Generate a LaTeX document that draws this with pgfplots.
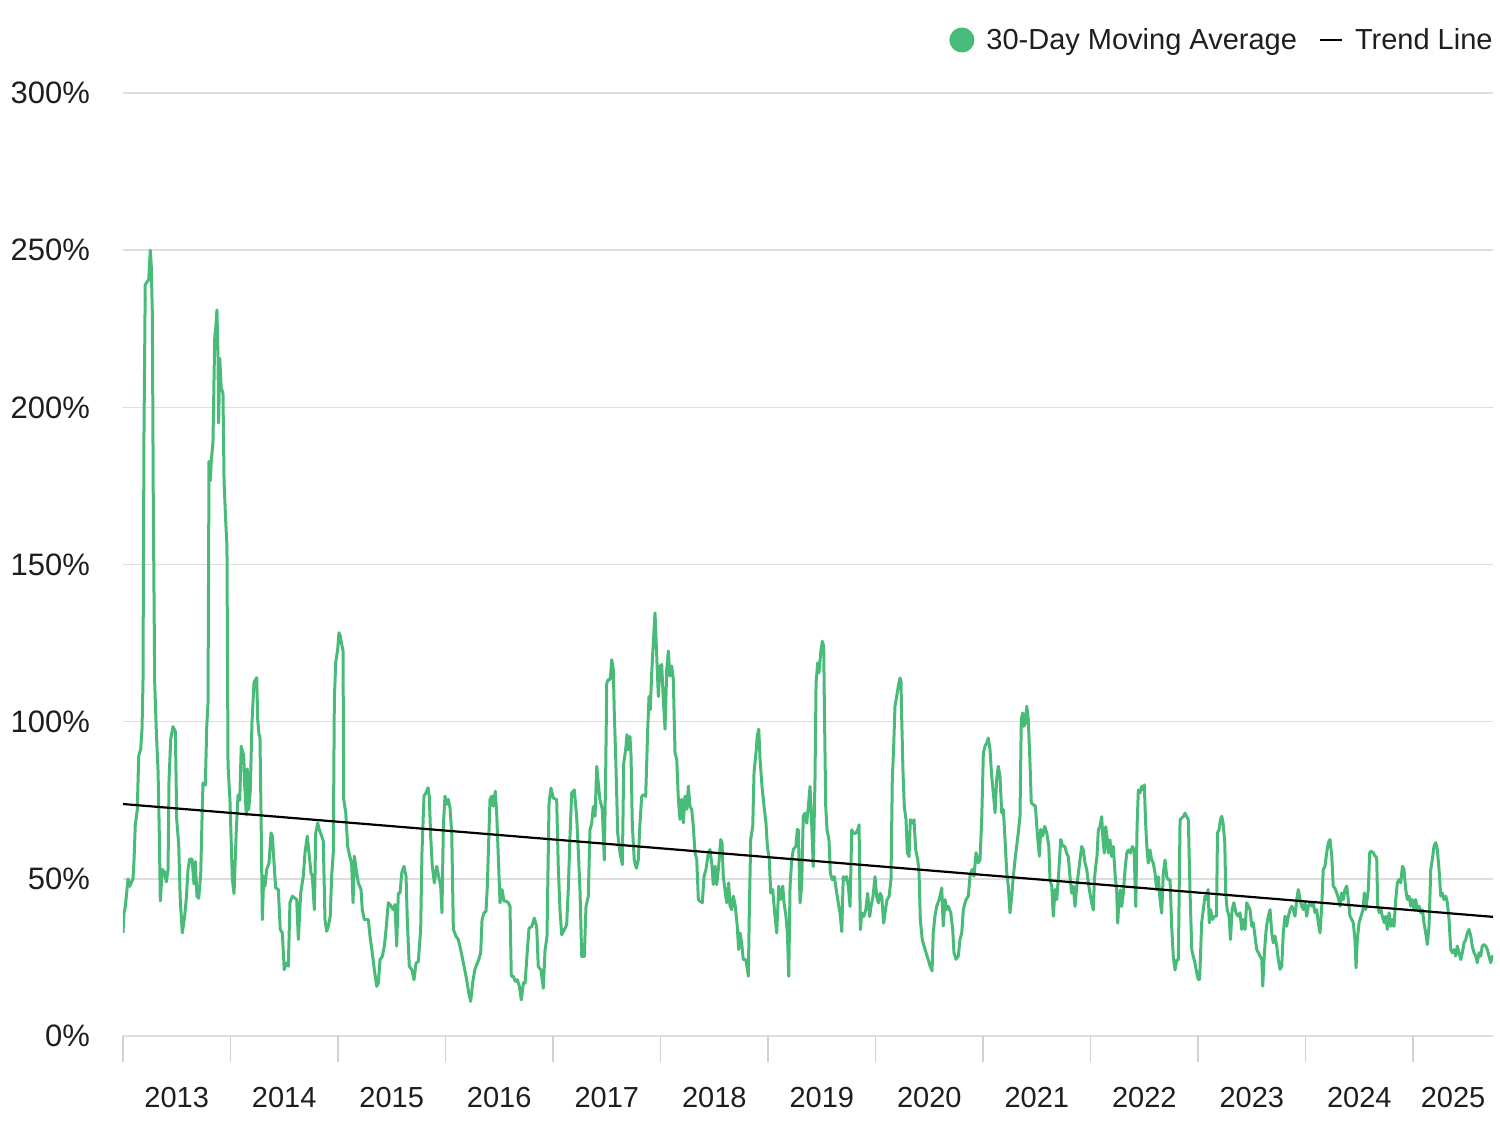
\documentclass[border=0pt]{standalone}
\usepackage{pgfplots}
\pgfplotsset{compat=1.18}
\usepackage{fontspec}
\setmainfont{Liberation Sans}
\definecolor{linegreen}{RGB}{72,187,120}
\definecolor{gridgray}{RGB}{222,222,222}
\definecolor{tickgray}{RGB}{210,210,210}
\definecolor{txt}{RGB}{30,30,30}

\begin{document}
\begin{tikzpicture}
\path[use as bounding box] (-61.5pt,-44.5pt) rectangle (688.5pt,518pt);
\begin{axis}[
  scale only axis, width=685pt, height=471.5pt,
  xmin=2013, xmax=2025.744, ymin=0, ymax=300,
  axis line style={draw=none},
  ytick={0,50,100,150,200,250,300},
  yticklabels={0\%,50\%,100\%,150\%,200\%,250\%,300\%},
  ymajorgrids, grid style={gridgray, line width=0.75pt},
  xtick={2013,2014,2015,2016,2017,2018,2019,2020,2021,2022,2023,2024,2025},
  xticklabels={},
  tick align=outside, major tick length=13pt,
  xtick pos=bottom, ytick pos=left,
  ytick style={draw=none},
  xtick style={draw=tickgray, line width=0.75pt},
  extra x ticks={2013.5,2014.5,2015.5,2016.5,2017.5,2018.5,2019.5,2020.5,2021.5,2022.5,2023.5,2024.5,2025.372},
  extra x tick labels={2013,2014,2015,2016,2017,2018,2019,2020,2021,2022,2023,2024,2025},
  extra x tick style={major tick length=0pt, xticklabel style={yshift=-22pt}},
  tick label style={font=\fontsize{14.5}{17}\selectfont, text=txt},
  yticklabel style={font=\fontsize{15.5}{18}\selectfont},
  legend columns=2,
  legend style={at={(axis description cs:1,1.0562)}, anchor=east, draw=none, fill=none,
    font=\fontsize{14.5}{17}\selectfont, text=txt, inner sep=0pt,
    nodes={inner sep=0pt},
    /tikz/every odd column/.append style={column sep=6pt},
    /tikz/every even column/.append style={column sep=11pt}},
]
\addplot[linegreen, line width=1.5pt, line join=round, mark=none,
  legend image code/.code={\fill[linegreen] (5.5pt,0pt) circle (5.5pt);}]
coordinates {
(2013.000,32.8) (2013.009,39) (2013.021,41) (2013.047,50) (2013.062,47.6) (2013.093,50) (2013.102,55.5) (2013.114,67) (2013.133,72) (2013.146,89) (2013.165,91.4) (2013.177,97.7) (2013.186,112.5) (2013.195,190.6) (2013.207,239) (2013.226,240) (2013.239,240.6) (2013.254,250) (2013.263,245) (2013.273,229.7) (2013.282,168.7) (2013.295,112.5) (2013.310,96.9) (2013.326,84.4) (2013.338,64) (2013.347,43) (2013.366,53) (2013.388,52) (2013.403,49) (2013.419,53) (2013.428,81) (2013.444,94.5) (2013.465,98.4) (2013.487,96.9) (2013.500,68.8) (2013.518,61) (2013.533,43) (2013.552,32.8) (2013.574,38.3) (2013.589,43.8) (2013.605,53) (2013.620,56.3) (2013.642,56.3) (2013.660,48.4) (2013.673,55.5) (2013.688,44.5) (2013.704,43.8) (2013.723,51.6) (2013.735,68.8) (2013.744,80.5) (2013.766,79.8) (2013.779,98.4) (2013.791,106) (2013.800,182.8) (2013.812,176.6) (2013.821,182.8) (2013.837,189) (2013.853,222) (2013.862,225) (2013.874,231) (2013.884,215.6) (2013.890,195) (2013.900,215.6) (2013.914,206) (2013.930,204.7) (2013.940,176.6) (2013.955,164) (2013.967,156) (2013.977,86) (2013.995,75)
(2014.017,50) (2014.033,45.3) (2014.054,65.6) (2014.070,76.6) (2014.086,75) (2014.100,92.2) (2014.123,89) (2014.132,79.8) (2014.147,70.3) (2014.156,85) (2014.169,72) (2014.184,78) (2014.200,100) (2014.219,112.5) (2014.231,113.3) (2014.244,114) (2014.253,100.7) (2014.265,96) (2014.274,95.4) (2014.284,71) (2014.296,37) (2014.309,50.8) (2014.321,47.7) (2014.337,53) (2014.358,55) (2014.377,64.6) (2014.389,63.6) (2014.407,54) (2014.420,47.1) (2014.445,46.6) (2014.463,33.9) (2014.482,32.8) (2014.500,21.1) (2014.519,23.2) (2014.538,22.2) (2014.553,42.4) (2014.575,44.5) (2014.593,44) (2014.616,43.4) (2014.631,30.7) (2014.653,45.5) (2014.677,50.8) (2014.693,58.3) (2014.714,63.6) (2014.730,58.3) (2014.749,51.9) (2014.761,50.8) (2014.780,40.2) (2014.793,64.6) (2014.811,67.8) (2014.826,65.7) (2014.848,63.6) (2014.863,62) (2014.879,37) (2014.895,33.3) (2014.910,34.9) (2014.928,38.1) (2014.941,50.8) (2014.956,58.3) (2014.966,107) (2014.979,118.8) (2014.997,123)
(2015.009,128.3) (2015.021,127.2) (2015.034,124.6) (2015.047,122.5) (2015.053,75.3) (2015.072,71) (2015.090,60.4) (2015.109,57.2) (2015.127,55) (2015.140,42.4) (2015.152,57.2) (2015.174,51.9) (2015.189,48.7) (2015.214,46.6) (2015.226,40.2) (2015.245,37) (2015.267,37) (2015.282,37) (2015.298,31.7) (2015.319,26.4) (2015.338,21.1) (2015.360,15.8) (2015.375,16.8) (2015.391,24.3) (2015.412,25.3) (2015.431,28.6) (2015.447,33.9) (2015.468,42.4) (2015.484,41.8) (2015.493,41.3) (2015.514,40.2) (2015.530,41.8) (2015.546,28.6) (2015.561,45.5) (2015.577,45.5) (2015.593,51.9) (2015.614,54) (2015.633,50.8) (2015.645,36.5) (2015.663,22.2) (2015.686,21.1) (2015.707,17.9) (2015.726,23.2) (2015.747,23.7) (2015.769,33.9) (2015.781,58.3) (2015.800,76.3) (2015.819,77.4) (2015.837,79) (2015.849,76.3) (2015.862,63.6) (2015.877,54) (2015.896,48.7) (2015.918,54) (2015.937,50.8) (2015.955,47.7) (2015.967,39.2) (2015.980,66.8) (2015.995,76.3)
(2016.011,73.7) (2016.026,75.3) (2016.042,72.6) (2016.058,64.6) (2016.073,33.9) (2016.098,31.7) (2016.119,30.7) (2016.141,27.5) (2016.160,24.3) (2016.179,21.1) (2016.197,17.9) (2016.216,13.7) (2016.234,11) (2016.253,16.9) (2016.272,21.1) (2016.290,22.7) (2016.309,24.3) (2016.327,26.4) (2016.340,37) (2016.358,39.2) (2016.377,39.7) (2016.389,47.7) (2016.402,62.5) (2016.414,75.3) (2016.430,76.3) (2016.445,73.1) (2016.463,77.9) (2016.476,71) (2016.491,57.2) (2016.507,42.4) (2016.526,46.6) (2016.544,42.9) (2016.563,42.9) (2016.584,42.4) (2016.600,41.3) (2016.612,19) (2016.631,19) (2016.649,17.4) (2016.668,17.9) (2016.687,15.8) (2016.705,11.5) (2016.724,16.9) (2016.740,16.8) (2016.763,28) (2016.777,34.3) (2016.802,34.8) (2016.826,37.5) (2016.848,34.8) (2016.863,22.1) (2016.888,21) (2016.910,15.2) (2016.926,27.4) (2016.944,31.6) (2016.963,74.1) (2016.981,78.9)
(2017.003,75.7) (2017.034,75.2) (2017.049,53.9) (2017.065,40.1) (2017.081,32.2) (2017.105,33.8) (2017.127,35.4) (2017.142,46.5) (2017.158,63.5) (2017.174,77.3) (2017.198,78.3) (2017.220,69.9) (2017.235,59.2) (2017.251,46.5) (2017.267,25.3) (2017.291,25.3) (2017.307,41.2) (2017.328,44.4) (2017.344,65.6) (2017.360,67.7) (2017.375,73) (2017.391,69.9) (2017.407,85.8) (2017.421,80.5) (2017.437,75.2) (2017.459,72) (2017.477,56) (2017.490,83.7) (2017.500,112.3) (2017.514,113.4) (2017.533,113.4) (2017.546,119.7) (2017.561,116.6) (2017.570,102.8) (2017.583,89) (2017.602,64.5) (2017.623,58.2) (2017.645,54.5) (2017.658,86.8) (2017.676,91.1) (2017.688,95.9) (2017.701,91.1) (2017.716,95.3) (2017.726,89) (2017.738,66.7) (2017.756,56) (2017.775,53.4) (2017.793,56) (2017.809,67.7) (2017.825,76.2) (2017.844,76.8) (2017.862,76.2) (2017.881,97.5) (2017.893,108) (2017.905,103.8) (2017.918,115.5) (2017.933,125.1) (2017.949,134.6) (2017.965,120.8) (2017.980,108) (2017.995,117.6)
(2018.011,118.2) (2018.026,107.1) (2018.042,97.6) (2018.058,116.7) (2018.073,122.5) (2018.088,114.5) (2018.104,117.7) (2018.119,113.5) (2018.135,90.1) (2018.151,88) (2018.166,75.3) (2018.181,68.9) (2018.197,75.3) (2018.212,67.8) (2018.228,76.3) (2018.244,72.1) (2018.259,79.5) (2018.274,73.1) (2018.290,72.1) (2018.305,66.8) (2018.321,58.3) (2018.337,56.2) (2018.352,43.4) (2018.367,42.9) (2018.389,42.4) (2018.405,50.8) (2018.423,53) (2018.445,58.3) (2018.460,59.3) (2018.476,55.1) (2018.491,48.2) (2018.507,54) (2018.523,48.2) (2018.541,54) (2018.560,62.5) (2018.572,61.5) (2018.584,50.8) (2018.603,45.5) (2018.616,42.4) (2018.634,48.7) (2018.647,41.3) (2018.662,40.2) (2018.677,44.5) (2018.696,41.3) (2018.714,34.9) (2018.727,27.5) (2018.740,32.8) (2018.755,29.6) (2018.770,24.3) (2018.795,24.3) (2018.817,19) (2018.826,39.2) (2018.839,62.5) (2018.858,66.8) (2018.870,83.8) (2018.888,90.1) (2018.900,95.4) (2018.914,97.6) (2018.926,88) (2018.944,79.5) (2018.963,73.1) (2018.981,67.8) (2018.994,60.4)
(2019.012,56.2) (2019.025,45.5) (2019.044,46.6) (2019.062,39.2) (2019.081,32.8) (2019.100,47.7) (2019.118,43.4) (2019.137,47.7) (2019.149,42.4) (2019.167,38.1) (2019.180,32.8) (2019.193,19) (2019.205,47.7) (2019.221,56.2) (2019.235,59.3) (2019.260,60.4) (2019.273,65.7) (2019.282,65.6) (2019.298,42.3) (2019.313,47.6) (2019.328,69.9) (2019.344,70.9) (2019.360,67.7) (2019.375,73) (2019.391,79.4) (2019.407,66.7) (2019.421,53.9) (2019.437,81.5) (2019.447,112.3) (2019.462,118.7) (2019.474,115.5) (2019.490,121.9) (2019.505,125.6) (2019.518,124) (2019.524,105.9) (2019.537,73) (2019.549,65.6) (2019.567,62.4) (2019.580,51.8) (2019.598,49.7) (2019.617,50.7) (2019.635,46.5) (2019.654,42.3) (2019.670,39.1) (2019.686,33.2) (2019.700,50.7) (2019.716,49.7) (2019.732,50.7) (2019.747,47.6) (2019.763,41.2) (2019.779,65.6) (2019.797,64.5) (2019.816,64.5) (2019.835,65.6) (2019.847,67.2) (2019.859,33.8) (2019.872,39.1) (2019.890,38) (2019.909,40.1) (2019.927,45.4) (2019.946,38) (2019.958,41.2) (2019.977,44.4) (2019.995,50.7)
(2020.011,44.4) (2020.026,42.3) (2020.042,45.4) (2020.058,44.4) (2020.076,35.9) (2020.088,39.1) (2020.107,43.3) (2020.126,44.4) (2020.144,49.7) (2020.156,81.5) (2020.169,92.1) (2020.181,104.9) (2020.197,108.1) (2020.212,111.3) (2020.228,113.9) (2020.237,112.8) (2020.244,100.6) (2020.256,83.7) (2020.268,73) (2020.284,68.8) (2020.296,58.2) (2020.312,57.1) (2020.324,68.8) (2020.342,67.7) (2020.358,68.8) (2020.374,59.2) (2020.393,56.1) (2020.405,51.8) (2020.417,36.9) (2020.435,30.6) (2020.454,28.4) (2020.472,26.3) (2020.491,24.2) (2020.510,22) (2020.526,20.7) (2020.537,32.8) (2020.553,38.1) (2020.569,41.3) (2020.593,43.4) (2020.616,47.1) (2020.630,35) (2020.647,43.4) (2020.662,40.3) (2020.677,41.3) (2020.700,39.2) (2020.718,33.9) (2020.730,26.5) (2020.749,24.4) (2020.770,25.4) (2020.786,30.7) (2020.802,32.8) (2020.817,40.3) (2020.842,43.4) (2020.863,44.5) (2020.879,50.8) (2020.898,53) (2020.916,50.8) (2020.935,58.3) (2020.956,55.1) (2020.972,56.1) (2020.988,68.9)
(2021.003,90) (2021.019,92.2) (2021.034,93.2) (2021.049,94.8) (2021.065,91.1) (2021.081,82.6) (2021.096,77.3) (2021.112,71) (2021.127,81.6) (2021.142,85.8) (2021.158,82.6) (2021.174,71) (2021.189,72) (2021.205,62.5) (2021.221,51.9) (2021.235,47.7) (2021.251,39.2) (2021.267,44.5) (2021.282,50.8) (2021.298,56.1) (2021.313,60.4) (2021.328,64.6) (2021.344,69.9) (2021.356,100.6) (2021.369,102.8) (2021.381,98.5) (2021.393,99.6) (2021.407,104.9) (2021.421,100.6) (2021.437,86.9) (2021.449,74.2) (2021.468,73.6) (2021.487,73.1) (2021.505,64.6) (2021.524,57.2) (2021.537,65.7) (2021.555,63.6) (2021.574,66.7) (2021.593,64.6) (2021.612,60.4) (2021.623,49.8) (2021.639,47.7) (2021.654,38.1) (2021.670,46.6) (2021.686,43.4) (2021.704,51.9) (2021.723,62.5) (2021.741,60.4) (2021.760,60.4) (2021.779,58) (2021.793,57.1) (2021.809,50.7) (2021.825,45.4) (2021.840,47.6) (2021.856,41.2) (2021.872,47.6) (2021.887,51.8) (2021.902,56) (2021.918,60.3) (2021.933,59.2) (2021.949,55) (2021.965,52.9) (2021.980,48.6) (2021.995,45.4)
(2022.011,42.3) (2022.026,40.1) (2022.036,49.7) (2022.048,53.9) (2022.060,57.1) (2022.073,65.6) (2022.088,66.6) (2022.104,69.8) (2022.116,62.4) (2022.128,58.2) (2022.141,66.6) (2022.153,63.5) (2022.165,58.2) (2022.181,62.4) (2022.197,57.1) (2022.212,60.3) (2022.228,51.8) (2022.244,45.4) (2022.253,35.9) (2022.265,43.3) (2022.277,46.5) (2022.290,41.2) (2022.305,45.4) (2022.321,52.9) (2022.337,58.2) (2022.352,59.2) (2022.370,58.2) (2022.389,60.3) (2022.405,59.2) (2022.421,41.2) (2022.433,66.6) (2022.445,78.3) (2022.460,77.3) (2022.476,79.4) (2022.491,78.3) (2022.500,79.9) (2022.514,66.6) (2022.526,59.2) (2022.537,55) (2022.553,59.2) (2022.569,56) (2022.584,55) (2022.600,51.8) (2022.616,46.5) (2022.630,50.7) (2022.647,43.3) (2022.662,39.1) (2022.677,51.8) (2022.693,56) (2022.709,50.7) (2022.724,49.7) (2022.740,49.7) (2022.755,34.8) (2022.770,25.3) (2022.786,21) (2022.802,24.2) (2022.817,24.2) (2022.833,68.8) (2022.848,69.3) (2022.863,69.8) (2022.879,70.9) (2022.895,69.8) (2022.910,68.8) (2022.926,45.4) (2022.942,27.4) (2022.956,25.3) (2022.972,23.2) (2022.988,20)
(2023.003,17.9) (2023.015,18) (2023.034,36) (2023.049,40.2) (2023.065,44.5) (2023.081,43.4) (2023.093,46.6) (2023.105,36) (2023.116,40.2) (2023.135,37.1) (2023.153,38.1) (2023.172,38.1) (2023.181,64.6) (2023.196,65.7) (2023.209,68.9) (2023.221,69.9) (2023.233,67.8) (2023.249,61.5) (2023.258,45.5) (2023.271,40.2) (2023.289,38.1) (2023.302,30.7) (2023.317,40.2) (2023.333,42.4) (2023.353,39.2) (2023.372,38.1) (2023.391,39.2) (2023.406,33.9) (2023.421,37.1) (2023.437,33.9) (2023.453,42.4) (2023.468,41.3) (2023.484,40.2) (2023.500,34.9) (2023.514,36) (2023.530,31.8) (2023.546,27.5) (2023.561,26.5) (2023.577,25.4) (2023.593,24.3) (2023.602,15.9) (2023.614,24.3) (2023.626,30.7) (2023.637,34.9) (2023.654,38.1) (2023.670,40.2) (2023.686,32.8) (2023.700,29.6) (2023.716,31.8) (2023.732,28.6) (2023.747,24.3) (2023.763,21.2) (2023.779,22.2) (2023.793,32.8) (2023.809,38.1) (2023.825,34.9) (2023.840,38.1) (2023.856,40.2) (2023.872,41.3) (2023.886,40.2) (2023.902,38.1) (2023.918,43.4) (2023.933,46.6) (2023.949,43.4) (2023.965,41.3) (2023.980,40.2) (2023.995,42.4)
(2024.011,38.1) (2024.026,41.3) (2024.042,42.4) (2024.058,41.3) (2024.073,42.4) (2024.088,39.2) (2024.104,40.2) (2024.119,36) (2024.135,32.8) (2024.151,41.3) (2024.165,53) (2024.181,54) (2024.197,58.3) (2024.212,61.5) (2024.228,62.5) (2024.244,57.2) (2024.258,47.7) (2024.274,47) (2024.290,45.5) (2024.305,44) (2024.321,41.3) (2024.337,45.5) (2024.351,43.4) (2024.367,46.6) (2024.383,47.7) (2024.398,43.4) (2024.414,38.1) (2024.430,37.1) (2024.444,36) (2024.460,30.7) (2024.470,21.7) (2024.482,30.7) (2024.498,36) (2024.516,38.1) (2024.535,40.2) (2024.547,45.5) (2024.560,40.2) (2024.572,43.4) (2024.584,46.6) (2024.597,58.3) (2024.609,58.8) (2024.630,58.3) (2024.647,57.2) (2024.662,56.7) (2024.672,41.3) (2024.686,39.2) (2024.702,40.2) (2024.714,38.1) (2024.733,36) (2024.746,38.1) (2024.761,33.9) (2024.777,39.2) (2024.793,34.9) (2024.808,37.1) (2024.823,34.9) (2024.839,43.4) (2024.854,48.7) (2024.870,49.8) (2024.886,48.7) (2024.901,54) (2024.916,53) (2024.932,46.6) (2024.947,43.4) (2024.963,44.5) (2024.979,41.3) (2024.993,43.4)
(2025.009,40.2) (2025.025,43.4) (2025.040,40.2) (2025.056,41.3) (2025.072,39.2) (2025.087,40.2) (2025.102,36) (2025.118,32.8) (2025.133,29.1) (2025.149,34.9) (2025.165,53) (2025.180,56.2) (2025.195,60.4) (2025.212,61.5) (2025.226,59.3) (2025.242,53) (2025.258,44.5) (2025.272,45.5) (2025.288,43.4) (2025.305,44.5) (2025.319,42.4) (2025.335,37.1) (2025.351,27.5) (2025.365,26.5) (2025.381,27.5) (2025.397,25.4) (2025.412,28.6) (2025.428,26.5) (2025.444,24.3) (2025.459,26.5) (2025.474,29.6) (2025.491,30.7) (2025.505,32.8) (2025.521,33.9) (2025.537,31.8) (2025.551,28.6) (2025.567,26.5) (2025.584,25.4) (2025.598,23.3) (2025.614,26.5) (2025.630,25.4) (2025.644,28.6) (2025.660,29.1) (2025.677,28.6) (2025.691,27.5) (2025.707,25.4) (2025.723,23.3) (2025.738,25.4) (2025.744,24.3)
};
\addlegendentry{30-Day Moving Average}
\addplot[black, line width=1.1pt, mark=none,
  legend image code/.code={\draw[black, line width=1pt] (0pt,0pt) -- (11pt,0pt);}]
coordinates {(2013,73.8) (2025.744,37.9)};
\addlegendentry{Trend Line}
\end{axis}
\end{tikzpicture}
\end{document}
